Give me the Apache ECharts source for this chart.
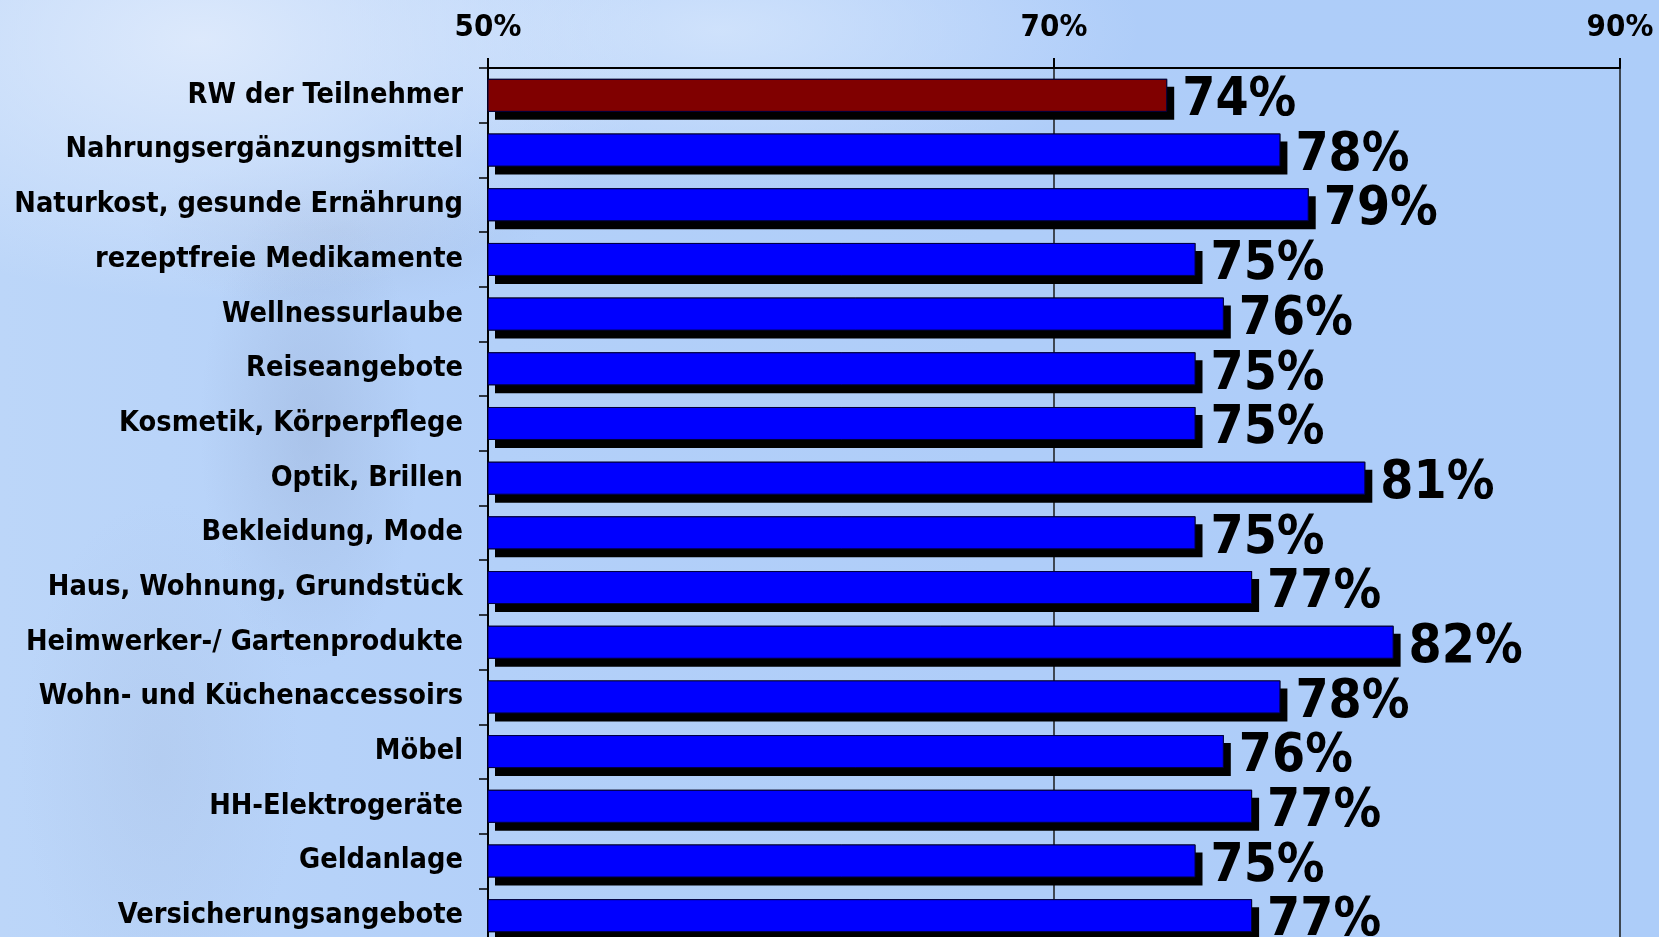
<!DOCTYPE html>
<html>
<head>
<meta charset="utf-8">
<script src="https://cdn.jsdelivr.net/npm/echarts@6/dist/echarts.min.js"></script>
<style>
  html, body { margin: 0; padding: 0; }
  body {
    width: 1659px; height: 937px; overflow: hidden;
    background:
      radial-gradient(ellipse 460px 260px at 200px 40px, rgba(222,234,252,0.95), rgba(222,234,252,0) 100%),
      radial-gradient(ellipse 420px 160px at 720px 30px, rgba(212,229,252,0.85), rgba(212,229,252,0) 100%),
      radial-gradient(ellipse 110px 240px at 310px 430px, rgba(150,172,210,0.4), rgba(150,172,210,0) 100%),
      radial-gradient(ellipse 200px 80px at 340px 230px, rgba(160,180,215,0.35), rgba(160,180,215,0) 100%),
      radial-gradient(ellipse 140px 260px at 160px 760px, rgba(170,192,226,0.35), rgba(170,192,226,0) 100%),
      linear-gradient(90deg, #bcd6f9 0%, #b3d0f9 30%, #afcdf9 60%, #adcdf9 100%);
  }
  #main { width: 1659px; height: 937px; }
</style>
</head>
<body>
<div id="main"></div>
<script>
var categories = ['RW der Teilnehmer', 'Nahrungsergänzungsmittel', 'Naturkost, gesunde Ernährung',
  'rezeptfreie Medikamente', 'Wellnessurlaube', 'Reiseangebote', 'Kosmetik, Körperpflege',
  'Optik, Brillen', 'Bekleidung, Mode', 'Haus, Wohnung, Grundstück', 'Heimwerker-/ Gartenprodukte',
  'Wohn- und Küchenaccessoirs', 'Möbel', 'HH-Elektrogeräte', 'Geldanlage', 'Versicherungsangebote'];
var values = [74, 78, 79, 75, 76, 75, 75, 81, 75, 77, 82, 78, 76, 77, 75, 77];
var tickValues = [50, 70, 90];

var font = '"DejaVu Sans Condensed", "DejaVu Sans", sans-serif';

var barData = [];
for (var i = 0; i < values.length; i++) {
  barData.push({
    value: values[i],
    itemStyle: { color: i == 0 ? '#800000' : '#0000ff' }
  });
}

var chart = echarts.init(document.getElementById('main'));
chart.setOption({
  backgroundColor: 'transparent',
  animation: false,
  grid: { left: 488, right: 39, top: 68, height: 875, outerBoundsMode: 'none' },
  xAxis: {
    type: 'value',
    position: 'top',
    min: 50,
    max: 90,
    axisLine: { show: true, lineStyle: { color: '#000', width: 2 } },
    axisTick: { show: true, length: 10, customValues: tickValues, lineStyle: { color: '#000', width: 2 } },
    splitLine: { show: true, lineStyle: { color: '#1a1a1a', width: 1.5 } },
    axisLabel: {
      customValues: tickValues,
      formatter: '{value}%',
      color: '#000', fontSize: 31, fontWeight: 'bold', fontFamily: font, margin: 25
    }
  },
  yAxis: {
    type: 'category',
    inverse: true,
    data: categories,
    axisLine: { show: true, lineStyle: { color: '#000', width: 2 } },
    axisTick: { show: true, length: 9, lineStyle: { color: '#000', width: 1.5 } },
    axisLabel: {
      color: '#000', fontSize: 28.7, fontWeight: 'bold', fontFamily: font, margin: 25,
      padding: [6, 0, 0, 0]
    }
  },
  series: [{
    // black drop shadow behind the bars
    type: 'bar',
    data: values,
    barWidth: 33,
    barGap: '-100%',
    z: 1,
    silent: true,
    itemStyle: {
      color: '#000',
      shadowColor: '#000', shadowBlur: 0, shadowOffsetX: 7, shadowOffsetY: 8
    }
  }, {
    type: 'bar',
    data: barData,
    barWidth: 33,
    barGap: '-100%',
    z: 2,
    itemStyle: { borderColor: '#000040', borderWidth: 1 },
    label: {
      show: true, position: 'right', distance: 15,
      formatter: '{c}%', offset: [0, 6],
      color: '#000', fontSize: 53, fontWeight: 'bold', fontFamily: font
    }
  }]
});
</script>
</body>
</html>
